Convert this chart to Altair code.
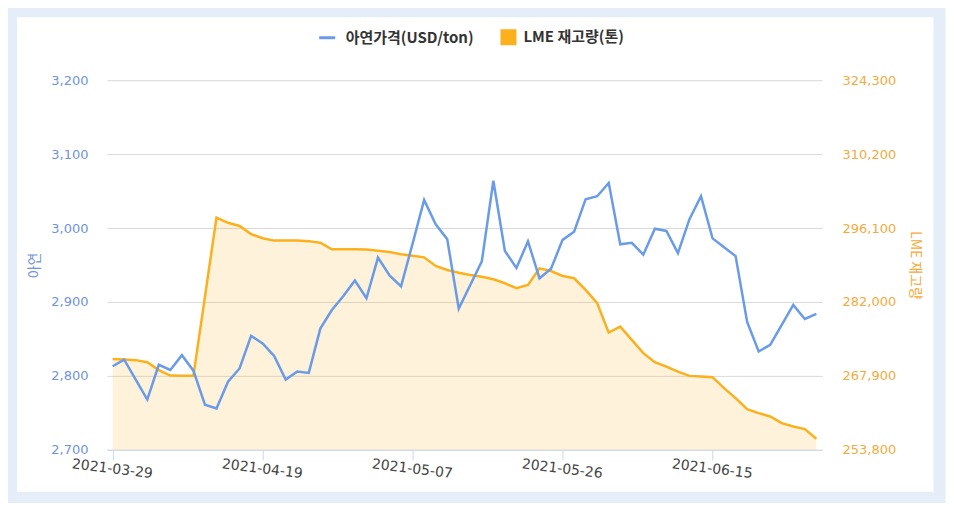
import altair as alt
import pandas as pd

dates = [
    "2021-03-29", "2021-03-30", "2021-03-31", "2021-04-01", "2021-04-06", "2021-04-07",
    "2021-04-08", "2021-04-09", "2021-04-12", "2021-04-13", "2021-04-14", "2021-04-15",
    "2021-04-16", "2021-04-19", "2021-04-20", "2021-04-21", "2021-04-22", "2021-04-23",
    "2021-04-26", "2021-04-27", "2021-04-28", "2021-04-29", "2021-04-30", "2021-05-04",
    "2021-05-05", "2021-05-06", "2021-05-07", "2021-05-10", "2021-05-11", "2021-05-12",
    "2021-05-13", "2021-05-14", "2021-05-17", "2021-05-18", "2021-05-19", "2021-05-20",
    "2021-05-21", "2021-05-24", "2021-05-25", "2021-05-26", "2021-05-27", "2021-05-28",
    "2021-06-01", "2021-06-02", "2021-06-03", "2021-06-04", "2021-06-07", "2021-06-08",
    "2021-06-09", "2021-06-10", "2021-06-11", "2021-06-14", "2021-06-15", "2021-06-16",
    "2021-06-17", "2021-06-18", "2021-06-21", "2021-06-22", "2021-06-23", "2021-06-24",
    "2021-06-25", "2021-06-28",
]

price = [
    2813, 2822, 2795, 2768, 2815, 2808, 2828, 2807, 2761, 2756,
    2792, 2810, 2854, 2844, 2827, 2795, 2806, 2804, 2864, 2889,
    2908, 2929, 2905, 2960, 2936, 2921, 2979, 3038, 3005, 2985,
    2891, 2923, 2955, 3064, 2969, 2946, 2982, 2932, 2945, 2984,
    2995, 3039, 3043, 3061, 2978, 2980, 2964, 2999, 2996, 2966,
    3012, 3043, 2986, 2974, 2962, 2873, 2833, 2842, 2869, 2896,
    2877, 2884,
]

stock = [
    271100, 271000, 270900, 270500, 269000, 267950, 267900, 267900, 283000, 298100,
    297100, 296500, 294950, 294150, 293700, 293700, 293700, 293600, 293300, 292050,
    292050, 292050, 292000, 291780, 291530, 291090, 290820, 290510, 288860, 288100,
    287580, 287150, 286820, 286330, 285560, 284610, 285240, 288420, 287900, 286950,
    286520, 284300, 281750, 276150, 277300, 274760, 272230, 270510, 269670, 268720,
    267900, 267770, 267650, 265560, 263650, 261560, 260790, 260160, 258890, 258250,
    257740, 255900,
]

price_ticks = [2700, 2800, 2900, 3000, 3100, 3200]
stock_ticks = [253800, 267900, 282000, 296100, 310200, 324300]

price_name = "아연가격(USD/ton)"
stock_name = "LME 재고량(톤)"
price_title = "아연"
stock_title = "LME 재고량"

label_dates = [dates[i] for i in range(0, len(dates), 13)]

df = pd.DataFrame({
    "date": dates,
    "price": price,
    "stock": stock,
    "p_series": price_name,
    "s_series": stock_name,
})

FONT = "Noto Sans CJK KR"
NUMFONT = "DejaVu Sans"
BLUE = "#6a9be8"
ORANGE = "#fbb01d"
LBLUE = "#6f93dc"
LORANGE = "#f5aa3c"
FRAME = "#e4edf8"

W, H = 716, 370

x_enc = alt.X(
    "date:O",
    sort=dates,
    scale=alt.Scale(type="point", padding=0.5),
    axis=alt.Axis(
        title=None, values=label_dates, labelAngle=7, labelAlign="center",
        labelBaseline="top", labelColor="#444444", labelFontSize=14, labelFont=NUMFONT,
        labelPadding=2, domainColor="#ccd6eb", tickColor="#ccd6eb", tickSize=10,
        grid=False, labelOverlap=False,
    ),
)

y_stock = alt.Y(
    "stock:Q",
    scale=alt.Scale(domain=[stock_ticks[0], stock_ticks[-1]], zero=False, nice=False),
    axis=alt.Axis(
        orient="right", values=stock_ticks, format=",d", grid=False, domain=False,
        ticks=False, labelColor=LORANGE, labelFontSize=13, labelFont=NUMFONT,
        labelPadding=20, title=stock_title, titleColor=LORANGE, titleAngle=90,
        titleFontSize=14, titleFontWeight="normal", titleFont=FONT, titlePadding=12,
    ),
)

y_price = alt.Y(
    "price:Q",
    scale=alt.Scale(domain=[price_ticks[0], price_ticks[-1]], zero=False, nice=False),
    axis=alt.Axis(
        orient="left", values=price_ticks, format=",d", grid=True, gridColor="#d9d9d9",
        domain=False, ticks=False, labelColor=LBLUE, labelFontSize=13, labelFont=NUMFONT,
        labelPadding=19, title=price_title, titleColor=LBLUE, titleFontSize=14,
        titleFontWeight="normal", titleFont=FONT, titlePadding=9,
    ),
)

base = alt.Chart(df)

legend_common = dict(
    title=None, orient="none", labelFont=FONT, labelFontSize=15,
    labelFontWeight="bold", labelColor="#333333",
)

area = base.mark_area(fillOpacity=0.16, interpolate="linear", clip=True).encode(
    x=x_enc,
    y=y_stock,
    fill=alt.Fill(
        "s_series:N",
        scale=alt.Scale(domain=[stock_name], range=[ORANGE]),
        legend=alt.Legend(legendX=393, legendY=-52, symbolType="square",
                          symbolSize=256, symbolOpacity=1, labelOffset=6,
                          **legend_common),
    ),
)

stock_line = base.mark_line(color=ORANGE, strokeWidth=2.5).encode(x=x_enc, y=y_stock)

price_line = base.mark_line(strokeWidth=2.5).encode(
    x=x_enc,
    y=y_price,
    color=alt.Color(
        "p_series:N",
        scale=alt.Scale(domain=[price_name], range=[BLUE]),
        legend=alt.Legend(legendX=211, legendY=-52, symbolType="stroke",
                          symbolSize=256, symbolStrokeWidth=3, labelOffset=9,
                          **legend_common),
    ),
)

frame = alt.Chart(alt.Data(values=[{"k": 1}])).mark_rect(
    fill="transparent", stroke=FRAME, strokeWidth=12
).encode(
    x=alt.value(-96), x2=alt.value(W + 117.5),
    y=alt.value(-69), y2=alt.value(H + 48),
)

chart = alt.layer(
    frame, alt.layer(area, stock_line), price_line
).resolve_scale(y="independent").properties(
    width=W, height=H,
    autosize=alt.AutoSizeParams(type="none"),
    padding={"left": 99, "top": 72, "right": 124, "bottom": 53},
    background="white",
).configure_view(stroke=None)

chart.save("out.html", embed_options={"renderer": "svg", "actions": False})
